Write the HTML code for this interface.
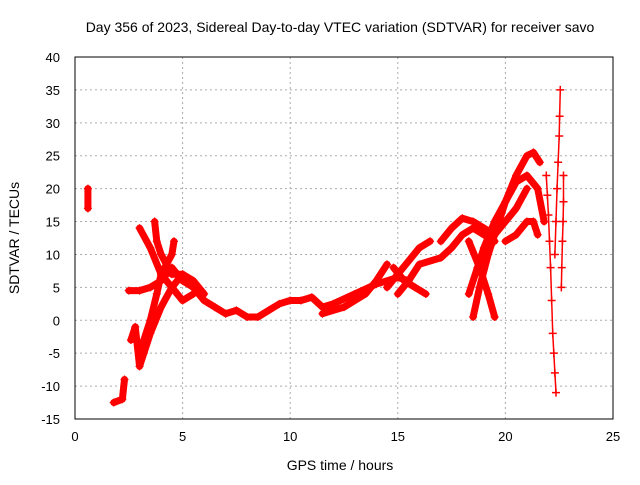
<!DOCTYPE html>
<html><head><meta charset="utf-8"><style>
body{margin:0;background:#fff}
svg{font-family:"Liberation Sans",sans-serif;font-size:13px}
</style></head><body>
<svg id="chart" width="640" height="480" viewBox="0 0 640 480">
<rect width="640" height="480" fill="#fff"/>
<text x="340" y="32" text-anchor="middle" font-size="14">Day 356 of 2023, Sidereal Day-to-day VTEC variation (SDTVAR) for receiver savo</text>
<g id="grid"></g>
<g id="ticks"></g>
<g id="marks"></g>
<rect x="75" y="57" width="538" height="362" fill="none" stroke="#000" stroke-width="1"/>
<text x="340" y="470" text-anchor="middle" font-size="14">GPS time / hours</text>
<text transform="translate(19,238) rotate(-90)" text-anchor="middle" font-size="14">SDTVAR / TECUs</text>
</svg>
<script>
const xTicks=[0,5,10,15,20,25];
const yTicks=[-15,-10,-5,0,5,10,15,20,25,30,35,40];
const trackA=[[5.5,5],[6,3],[6.5,2],[7,1],[7.5,1.5],[8,0.5],[8.5,0.5],[9,1.5],[9.5,2.5],[10,3],[10.5,3],[11,3.5],[11.5,2],[12,2.5],[13,4],[14,5.5],[15,6.5],[15.5,6]];
const trackB=[[11.5,1],[12.5,2],[13.5,4],[14,6],[14.5,8.5]];
const trackC=[[14.5,5],[15,7],[15.5,9],[16,11],[16.5,12]];
const trackD=[[15,4],[15.5,6],[16,8.5],[17,9.5],[17.5,11],[18,13],[18.5,14],[19,13],[19.5,12]];
const trackE=[[14.8,8],[15.3,6],[15.8,5],[16.3,4]];
const trackF=[[17,12],[17.5,14],[18,15.5],[18.5,15],[19,14],[19.5,13],[20,15],[20.5,17],[21,20]];
const trackG=[[18.3,4],[18.7,8],[19,11],[19.5,15],[20,18],[20.5,22],[21,25],[21.3,25.5],[21.6,24]];
const trackH=[[18.3,12],[18.8,8],[19.2,4],[19.5,0.5]];
const trackI=[[18.5,0.5],[18.8,5],[19.2,10],[19.6,14],[20,18],[20.5,21],[21,22],[21.5,20],[21.8,15]];
const trackJ=[[20,12],[20.5,13],[21,15],[21.3,15],[21.5,13]];
const trackK=[[21.9,22],[21.95,19],[22,16],[22.05,12],[22.1,8],[22.15,3],[22.2,-2],[22.25,-5],[22.3,-8],[22.35,-11]];
const trackL=[[22.3,10],[22.35,15],[22.4,20],[22.45,24],[22.5,28],[22.52,31],[22.55,35]];
const trackM=[[22.6,5],[22.62,8],[22.65,12],[22.68,15],[22.7,18],[22.7,22]];
const trackN=[[0.6,17],[0.6,20]];
const trackO=[[1.8,-12.5],[2.2,-12],[2.3,-9]];
const trackP=[[2.6,-3],[2.8,-1],[3,-7],[3.2,-5],[3.5,-2],[4,2],[4.5,5],[5,7],[5.5,5],[5.8,4]];
const trackQ=[[2.5,4.5],[3,4.5],[3.5,5],[4,6],[4.5,8],[5,6],[5.5,5]];
const trackR=[[3,14],[3.5,11],[4,7],[4.5,5],[5,3],[5.5,4]];
const trackS=[[3.7,15],[3.8,12],[4,10],[4.5,7],[5,7],[5.5,6],[6,4]];
const trackT=[[3,-6],[3.2,-3],[3.5,0],[3.8,4],[4,7],[4.5,10],[4.6,12]];
const tracks=[trackA,trackB,trackC,trackD,trackE,trackF,trackG,trackH,trackI,trackJ,trackK,trackL,trackM,trackN,trackO,trackP,trackQ,trackR,trackS,trackT];
const thinTracks=[trackK,trackL,trackM];
const X=v=>75+v/25*538, Y=v=>419-(v+15)/55*362;
const NS="http://www.w3.org/2000/svg";
const g=document.getElementById('grid'),t=document.getElementById('ticks'),m=document.getElementById('marks');
function mk(tag,a,p){const e=document.createElementNS(NS,tag);for(const k in a)e.setAttribute(k,a[k]);p.appendChild(e);return e;}
xTicks.forEach(v=>{
 if(v>0&&v<25){const l=mk('line',{x1:X(v),x2:X(v),y1:57,y2:419,stroke:'#aaa','stroke-dasharray':'2,3'},g);
 
 }
 const s=mk('text',{x:X(v),y:441,'text-anchor':'middle'},t);s.textContent=v;
 
 
});
yTicks.forEach(v=>{
 if(v>-15&&v<40){const l=mk('line',{x1:75,x2:613,y1:Y(v),y2:Y(v),stroke:'#aaa','stroke-dasharray':'2,3'},g);
 
 }
 const s=mk('text',{x:60,y:Y(v)+5,'text-anchor':'end'},t);s.textContent=v;
 
 
});
tracks.forEach(tr=>{
 const thin=thinTracks.includes(tr);
 const p=mk('polyline',{points:tr.map(d=>X(d[0])+','+Y(d[1])).join(' '),fill:'none',stroke:'#f00','stroke-width':thin?1.5:7,'stroke-linejoin':'round','stroke-linecap':'round'},m);
 
 
 tr.forEach(d=>{
  const c=mk('path',{d:`M${X(d[0])-4},${Y(d[1])}h8M${X(d[0])},${Y(d[1])-4}v8`,stroke:'#f00','stroke-width':thin?1.5:1.2},m);
  
  
 });
});
</script>
</body></html>
